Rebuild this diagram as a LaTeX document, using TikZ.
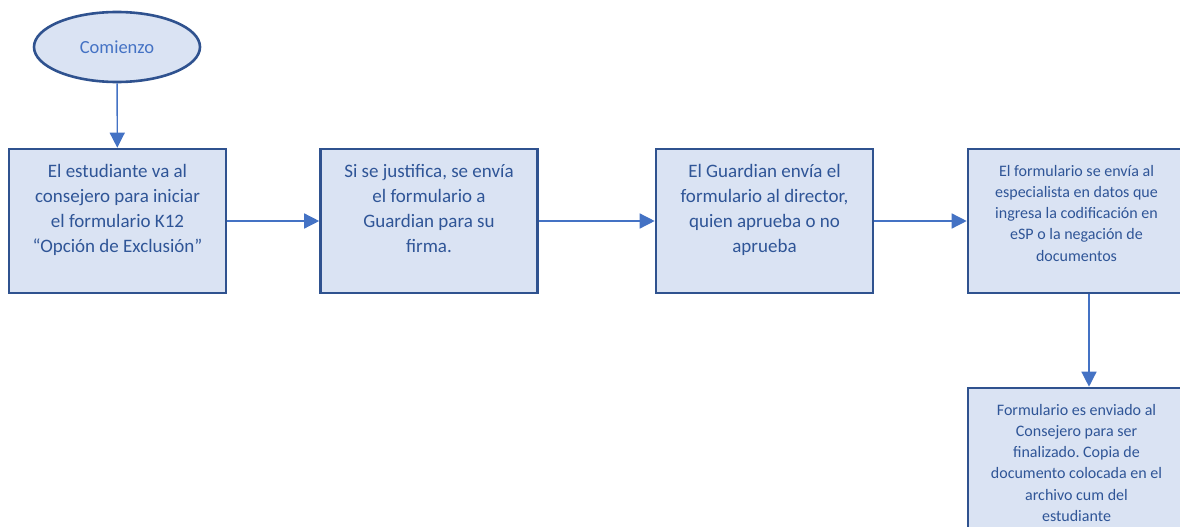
\documentclass[tikz,border=0pt]{standalone}
\usepackage{fontspec}
\setmainfont{Carlito}
\frenchspacing
\usetikzlibrary{shapes.geometric,arrows.meta}
\definecolor{boxfill}{HTML}{DAE3F3}
\definecolor{boxline}{HTML}{2F528F}
\definecolor{arrowc}{HTML}{4472C4}
\definecolor{txtc}{HTML}{2F5597}
\begin{document}
\begin{tikzpicture}[x=1pt,y=1pt,
  stepbox/.style={draw=boxline,fill=boxfill,line width=2.6pt,minimum width=217pt,minimum height=144pt,inner sep=0pt},
  bigtxt/.style={anchor=north,align=center,text=txtc,font=\fontsize{19}{25}\selectfont,inner sep=0pt},
  smalltxt/.style={anchor=north,align=center,text=txtc,font=\fontsize{16}{21.2}\selectfont,inner sep=0pt},
  conn/.style={draw=arrowc,line width=1.4pt,-{Triangle[width=15pt,length=15pt]}}]
\useasboundingbox (0,0) rectangle (1180,-527);
\clip (0,0) rectangle (1180,-527);
\node[ellipse,draw=boxline,fill=boxfill,line width=2.6pt,minimum width=166pt,minimum height=70pt,text=arrowc,font=\fontsize{18.5}{22}\selectfont] (start) at (117,-47) {Comienzo};
\node[stepbox] (b1) at (117.5,-221) {};
\node[stepbox] (b2) at (429,-221) {};
\node[stepbox] (b3) at (764.5,-221) {};
\node[stepbox] (b4) at (1076.5,-221) {};
\node[stepbox] (b5) at (1076.5,-460) {};
\node[bigtxt] (t1) at (117.5,-164) {El estudiante va al\\consejero para iniciar\\el formulario K12\\“Opción de Exclusión”};
\node[bigtxt] (t2) at (429,-164) {Si se justifica, se envía\\el formulario a\\Guardian para su\\firma.};
\node[bigtxt] (t3) at (764.5,-164) {El Guardian envía el\\formulario al director,\\quien aprueba o no\\aprueba};
\node[smalltxt] (t4) at (1076.5,-165) {El formulario se envía al\\especialista en datos que\\ingresa la codificación en\\eSP o la negación de\\documentos};
\node[smalltxt] (t5) at (1076.5,-404) {Formulario es enviado al\\Consejero para ser\\finalizado. Copia de\\documento colocada en el\\archivo cum del\\estudiante};
\draw[conn] (start) -- (b1);
\draw[conn] (b1) -- (b2);
\draw[conn] (b2) -- (b3);
\draw[conn] (b3) -- (b4);
\draw[conn] ([xshift=12.5pt]b4.south) -- ([xshift=12.5pt]b5.north);
\end{tikzpicture}
\end{document}
